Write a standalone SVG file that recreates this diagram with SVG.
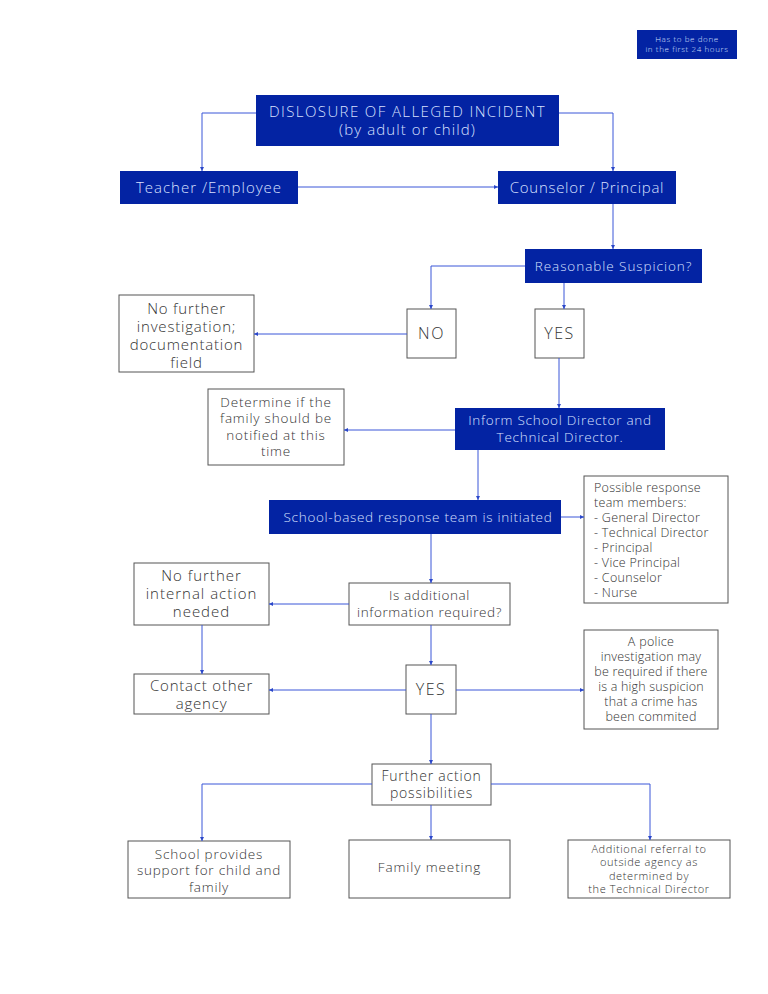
<svg xmlns="http://www.w3.org/2000/svg" width="768" height="994" viewBox="0 0 768 994">
<defs>
<marker id="ah" viewBox="0 0 6 6" refX="6" refY="3" markerWidth="4" markerHeight="4" orient="auto" markerUnits="userSpaceOnUse"><path d="M0,0 L6,3 L0,6 Z" fill="#2b47c9"/></marker>
<style>
.b{fill:#0323a3;}
.w{fill:#ffffff;stroke:#555555;stroke-width:1;}
.tb{font-family:"Open Sans","Liberation Sans",sans-serif;fill:#d8e0ff;text-anchor:middle;font-weight:300;letter-spacing:0.8px;}
.tw{font-family:"Open Sans","Liberation Sans",sans-serif;fill:#333333;text-anchor:middle;font-weight:300;letter-spacing:0.8px;}
.tl{text-anchor:start;letter-spacing:0.3px;}
.ts{letter-spacing:0.6px;}
.c{fill:none;stroke:#3a56d8;stroke-width:1;marker-end:url(#ah);}
</style>
</defs>
<rect width="768" height="994" fill="#ffffff"/>
<g id="note"><rect class="b" x="637" y="30" width="100" height="29"/><text class="tb ts" font-size="8" x="687" y="42">Has to be done</text><text class="tb ts" font-size="8" x="687" y="52">in the first 24 hours</text></g>
<g id="disclosure"><rect class="b" x="256" y="95" width="303" height="51"/><text class="tb" font-size="15" x="407.5" y="117" style="letter-spacing:1.4px">DISLOSURE OF ALLEGED INCIDENT</text><text class="tb" font-size="15" x="407.5" y="135" style="letter-spacing:1.1px">(by adult or child)</text></g>
<g id="teacher"><rect class="b" x="120" y="171" width="178" height="33"/><text class="tb" font-size="15" x="209" y="193" style="letter-spacing:1px">Teacher /Employee</text></g>
<g id="counselor"><rect class="b" x="498" y="171" width="178" height="33"/><text class="tb" font-size="15" x="587" y="193" style="letter-spacing:0.7px">Counselor / Principal</text></g>
<g id="suspicion"><rect class="b" x="525" y="249" width="177" height="34"/><text class="tb" font-size="13.5" x="613.5" y="271" style="letter-spacing:0.95px">Reasonable Suspicion?</text></g>
<g id="no"><rect class="w" x="407" y="309" width="49" height="49"/><text class="tw" font-size="16" x="431.5" y="339" style="letter-spacing:1.5px">NO</text></g>
<g id="yes1"><rect class="w" x="535" y="309" width="49" height="49"/><text class="tw" font-size="16" x="559.5" y="339" style="letter-spacing:1.5px">YES</text></g>
<g id="nofurther"><rect class="w" x="119" y="295" width="135" height="77"/><text class="tw" font-size="15" x="186.5" y="314">No further</text><text class="tw" font-size="15" x="186.5" y="332">investigation;</text><text class="tw" font-size="15" x="186.5" y="350">documentation</text><text class="tw" font-size="15" x="186.5" y="368">field</text></g>
<g id="inform"><rect class="b" x="455" y="408" width="210" height="42"/><text class="tb" font-size="13.5" x="560" y="425" style="letter-spacing:0.75px">Inform School Director and</text><text class="tb" font-size="13.5" x="560" y="442" style="letter-spacing:0.75px">Technical Director.</text></g>
<g id="determine"><rect class="w" x="208" y="389" width="136" height="76"/><text class="tw" font-size="13.5" x="276" y="407">Determine if the</text><text class="tw" font-size="13.5" x="276" y="423">family should be</text><text class="tw" font-size="13.5" x="276" y="440">notified at this</text><text class="tw" font-size="13.5" x="276" y="456">time</text></g>
<g id="team"><rect class="b" x="269" y="500" width="292" height="34"/><text class="tb" font-size="13.5" x="418" y="522" style="letter-spacing:0.7px">School-based response team is initiated</text></g>
<g id="members"><rect class="w" x="584" y="476" width="144" height="127"/><text class="tw tl" font-size="12.5" x="594" y="492">Possible response</text><text class="tw tl" font-size="12.5" x="594" y="507">team members:</text><text class="tw tl" font-size="12.5" x="594" y="522">- General Director</text><text class="tw tl" font-size="12.5" x="594" y="537">- Technical Director</text><text class="tw tl" font-size="12.5" x="594" y="552">- Principal</text><text class="tw tl" font-size="12.5" x="594" y="567">- Vice Principal</text><text class="tw tl" font-size="12.5" x="594" y="582">- Counselor</text><text class="tw tl" font-size="12.5" x="594" y="597">- Nurse</text></g>
<g id="additional"><rect class="w" x="349" y="583" width="161" height="42"/><text class="tw ts" font-size="13.5" x="429.5" y="600">Is additional</text><text class="tw ts" font-size="13.5" x="429.5" y="617">information required?</text></g>
<g id="nointernal"><rect class="w" x="134" y="563" width="135" height="62"/><text class="tw" font-size="15" x="201.5" y="581" style="letter-spacing:1px">No further</text><text class="tw" font-size="15" x="201.5" y="599" style="letter-spacing:1px">internal action</text><text class="tw" font-size="15" x="201.5" y="617" style="letter-spacing:1px">needed</text></g>
<g id="contact"><rect class="w" x="134" y="674" width="135" height="40"/><text class="tw" font-size="15" x="201.5" y="691">Contact other</text><text class="tw" font-size="15" x="201.5" y="709">agency</text></g>
<g id="yes2"><rect class="w" x="406" y="665" width="50" height="49"/><text class="tw" font-size="16" x="431" y="695" style="letter-spacing:1.5px">YES</text></g>
<g id="police"><rect class="w" x="584" y="630" width="134" height="99"/><text class="tw tl" font-size="12.5" x="651" y="646" text-anchor="middle" style="text-anchor:middle">A police</text><text class="tw" font-size="12.5" x="651" y="661" style="letter-spacing:0.2px">investigation may</text><text class="tw" font-size="12.5" x="651" y="676" style="letter-spacing:0.2px">be required if there</text><text class="tw" font-size="12.5" x="651" y="691" style="letter-spacing:0.2px">is a high suspicion</text><text class="tw" font-size="12.5" x="651" y="706" style="letter-spacing:0.2px">that a crime has</text><text class="tw" font-size="12.5" x="651" y="721" style="letter-spacing:0.2px">been commited</text></g>
<g id="further"><rect class="w" x="372" y="764" width="119" height="41"/><text class="tw" font-size="14" x="431.5" y="781">Further action</text><text class="tw" font-size="14" x="431.5" y="798">possibilities</text></g>
<g id="support"><rect class="w" x="128" y="841" width="162" height="57"/><text class="tw" font-size="13.5" x="209" y="859">School provides</text><text class="tw" font-size="13.5" x="209" y="875">support for child and</text><text class="tw" font-size="13.5" x="209" y="892">family</text></g>
<g id="familymeeting"><rect class="w" x="349" y="840" width="161" height="58"/><text class="tw" font-size="13.5" x="429.5" y="872" style="letter-spacing:0.9px">Family meeting</text></g>
<g id="referral"><rect class="w" x="568" y="840" width="162" height="58"/><text class="tw ts" font-size="11" x="649" y="853">Additional referral to</text><text class="tw ts" font-size="11" x="649" y="866">outside agency as</text><text class="tw ts" font-size="11" x="649" y="880">determined by</text><text class="tw ts" font-size="11" x="649" y="893">the Technical Director</text></g>
<g id="connectors">
<path class="c" d="M256,113 H202 V171"/>
<path class="c" d="M559,113 H613 V171"/>
<path class="c" d="M298,187 H498"/>
<path class="c" d="M613,204 V249"/>
<path class="c" d="M525,266 H431 V309"/>
<path class="c" d="M564,283 V309"/>
<path class="c" d="M407,334 H254"/>
<path class="c" d="M559,358 V408"/>
<path class="c" d="M455,430 H344"/>
<path class="c" d="M478,450 V500"/>
<path class="c" d="M561,517 H584"/>
<path class="c" d="M431,534 V583"/>
<path class="c" d="M349,604 H269"/>
<path class="c" d="M202,625 V674"/>
<path class="c" d="M431,625 V665"/>
<path class="c" d="M406,690 H269"/>
<path class="c" d="M456,690 H584"/>
<path class="c" d="M431,714 V764"/>
<path class="c" d="M372,784 H202 V841"/>
<path class="c" d="M431,805 V840"/>
<path class="c" d="M491,784 H650 V840"/>
</g>
</svg>
